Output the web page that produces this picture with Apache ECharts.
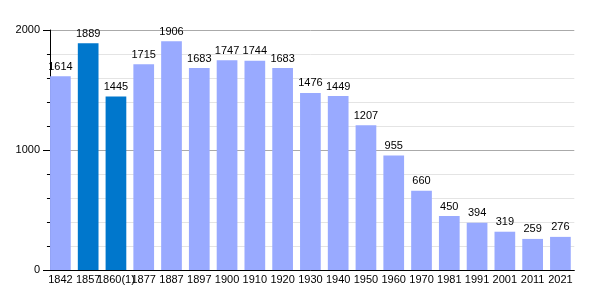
<!DOCTYPE html>
<html><head><meta charset="utf-8">
<script src="https://cdn.jsdelivr.net/npm/echarts@6/dist/echarts.min.js"></script>
<style>html,body{margin:0;padding:0;background:#fff}#c{width:600px;height:300px}</style>
</head><body><div id="c"></div>
<script>
var categories = ['1842','1857','1860(1)','1877','1887','1897','1900','1910','1920','1930','1940','1950','1960','1970','1981','1991','2001','2011','2021'];
var population = [1614,1889,1445,1715,1906,1683,1747,1744,1683,1476,1449,1207,955,660,450,394,319,259,276];
var highlighted = ['1857','1860(1)'];

var chart = echarts.init(document.getElementById('c'), null, {renderer:'canvas'});
var font = 'Liberation Sans, Arial, sans-serif';
chart.setOption({
  animation:false,
  grid:{left:46.5, right:25.7, top:30, bottom:30},
  xAxis:{
    type:'category', data:categories, boundaryGap:true,
    axisLine:{lineStyle:{color:'#000', width:1}},
    axisTick:{show:false},
    axisLabel:{color:'#000', fontFamily:font, fontSize:11, margin:4, interval:0}
  },
  yAxis:{
    type:'value', min:0, max:2000, interval:1000, offset:-3.5,
    axisLine:{show:true, lineStyle:{color:'#000', width:1}},
    axisTick:{show:true, length:7, lineStyle:{color:'#000'}},
    minorTick:{show:true, splitNumber:5, length:3, lineStyle:{color:'#000'}},
    axisLabel:{color:'#000', fontFamily:font, fontSize:11, margin:10,
      formatter:function(v){return String(v);}},
    splitLine:{show:true, lineStyle:{color:'#aaaaaa', width:1}},
    minorSplitLine:{show:true, lineStyle:{color:'#e4e4e4', width:1}}
  },
  series:[{
    type:'bar', barWidth:20.7,
    data:population.map(function(v,i){
      return {value:v, itemStyle:{color: highlighted.indexOf(categories[i])>=0 ? '#0077cc' : '#99aaff'}};
    }),
    label:{show:true, position:'top', distance:4, color:'#000', fontFamily:font, fontSize:11}
  }]
});
</script></body></html>
